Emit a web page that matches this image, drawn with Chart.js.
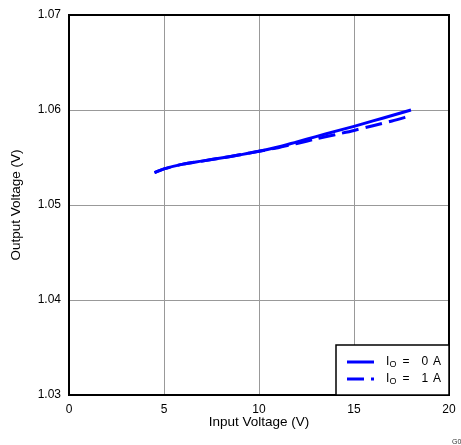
<!DOCTYPE html>
<html>
<head>
<meta charset="utf-8">
<script src="https://cdn.jsdelivr.net/npm/chart.js@4.4.0/dist/chart.umd.min.js"></script>
<style>
  html, body { margin: 0; padding: 0; background: #fff; }
  canvas { display: block; }
</style>
</head>
<body>
<canvas id="chart" width="461" height="445"></canvas>
<script>
// input voltage (V)
const vin = [4.5, 5, 6, 7, 8, 9, 10, 11, 12, 13, 14, 15, 16, 17, 18];
// output voltage (V) at Io = 0 A and Io = 1 A
const vout0A = [1.05340, 1.05380, 1.05430, 1.05462, 1.05494, 1.05528, 1.05565, 1.05610, 1.05665, 1.05720, 1.05775, 1.05828, 1.05885, 1.05942, 1.06000];
const vout1A = [1.05340, 1.05380, 1.05430, 1.05462, 1.05494, 1.05528, 1.05565, 1.05603, 1.05648, 1.05695, 1.05740, 1.05785, 1.05835, 1.05885, 1.05940];
const loadCurrents = ['0', '1'];
const xTicks = [0, 5, 10, 15, 20];
const yTicks = [1.03, 1.04, 1.05, 1.06, 1.07];

const font = 'Liberation Sans, Arial, sans-serif';
const blue = '#0000ff';

function pts(ys) {
    return vin.map((x, i) => ({ x: x, y: ys[i] }));
}

// frame around the plot area, legend box and figure tag
const extras = {
    id: 'extras',
    afterDraw(chart) {
        const { ctx, chartArea: a } = chart;
        ctx.save();
        ctx.strokeStyle = '#000';
        ctx.lineWidth = 2;
        ctx.strokeRect(a.left, a.top, a.right - a.left, a.bottom - a.top);

        // legend
        const lx = 336, ly = 345, lw = a.right - 336, lh = a.bottom - 345;
        ctx.fillStyle = '#fff';
        ctx.fillRect(lx, ly, lw, lh);
        ctx.lineWidth = 1.5;
        ctx.strokeRect(lx, ly, lw, lh);
        chart.data.datasets.forEach((ds, i) => {
            const y = 362 + i * 17;
            ctx.strokeStyle = ds.borderColor;
            ctx.lineWidth = ds.borderWidth;
            ctx.setLineDash(ds.borderDash || []);
            ctx.beginPath();
            ctx.moveTo(347, y);
            ctx.lineTo(374, y);
            ctx.stroke();
            ctx.setLineDash([]);
            ctx.fillStyle = '#000';
            ctx.textBaseline = 'middle';
            ctx.textAlign = 'left';
            ctx.font = '12px ' + font;
            ctx.fillText('I', 386, y);
            ctx.font = '9px ' + font;
            ctx.fillText('O', 389.5, y + 3);
            ctx.font = '12px ' + font;
            ctx.fillText('=', 402.5, y);
            ctx.fillText(loadCurrents[i], 421.5, y);
            ctx.fillText('A', 433, y);
        });

        ctx.fillStyle = '#333';
        ctx.font = '7px ' + font;
        ctx.textBaseline = 'middle';
        ctx.fillText('G001', 452, 442);
        ctx.restore();
    }
};

const ctx = document.getElementById('chart').getContext('2d');
const chart = new Chart(ctx, {
    type: 'line',
    data: {
        datasets: [{
            label: 'IO = 0 A',
            data: pts(vout0A),
            borderColor: blue,
            borderWidth: 3,
            pointRadius: 0,
            tension: 0.3,
            fill: false
        }, {
            label: 'IO = 1 A',
            data: pts(vout1A),
            borderColor: blue,
            borderWidth: 3,
            borderDash: [17, 7],
            pointRadius: 0,
            tension: 0.3,
            fill: false
        }]
    },
    options: {
        responsive: false,
        animation: false,
        layout: { padding: { left: 0, top: 15, right: 12, bottom: 0 } },
        plugins: {
            legend: { display: false },
            tooltip: { enabled: false }
        },
        scales: {
            x: {
                type: 'linear',
                min: 0,
                max: 20,
                afterBuildTicks: s => { s.ticks = xTicks.map(v => ({ value: v })); },
                afterFit: s => { s.height = 50; s.paddingLeft = 0; s.paddingRight = 0; },
                grid: { color: '#999', lineWidth: 1, drawTicks: false },
                border: { display: false },
                ticks: { padding: 7, color: '#000', font: { family: font, size: 12 } },
                title: {
                    display: true,
                    text: 'Input Voltage (V)',
                    color: '#000',
                    font: { family: font, size: 13.5 },
                    padding: { top: 0, bottom: 15 }
                }
            },
            y: {
                min: 1.03,
                max: 1.07,
                afterBuildTicks: s => { s.ticks = yTicks.map(v => ({ value: v })); },
                afterFit: s => { s.width = 69; s.paddingTop = 0; s.paddingBottom = 0; },
                grid: { color: '#999', lineWidth: 1, drawTicks: false },
                border: { display: false },
                ticks: {
                    padding: 8,
                    color: '#000',
                    font: { family: font, size: 12 },
                    callback: v => v.toFixed(2)
                },
                title: {
                    display: true,
                    text: 'Output Voltage (V)',
                    color: '#000',
                    font: { family: font, size: 13.5 },
                    padding: { top: 8, bottom: 0 }
                }
            }
        }
    },
    plugins: [extras]
});
</script>
</body>
</html>
